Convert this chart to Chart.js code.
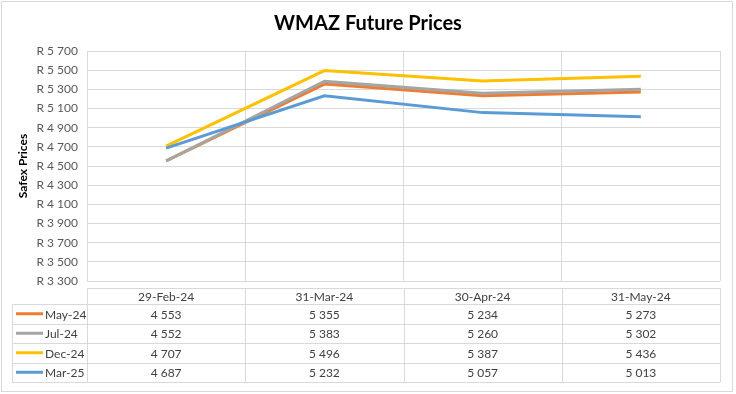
<!DOCTYPE html>
<html><head><meta charset="utf-8">
<script src="https://cdn.jsdelivr.net/npm/chart.js@4.4.1/dist/chart.umd.min.js"></script>
<style>html,body{margin:0;padding:0;background:#fff}#wrap{width:736px;height:394px;position:relative}</style>
</head><body><div id="wrap"><canvas id="c" width="736" height="394"></canvas></div>
<script>
const categories = ['29-Feb-24', '31-Mar-24', '30-Apr-24', '31-May-24'];
const seriesNames = ['May-24', 'Jul-24', 'Dec-24', 'Mar-25'];
const may24 = [4553, 5355, 5234, 5273];
const jul24 = [4552, 5383, 5260, 5302];
const dec24 = [4707, 5496, 5387, 5436];
const mar25 = [4687, 5232, 5057, 5013];
const seriesColors = ['#ED7D31', '#A5A5A5', '#FFC000', '#5B9BD5'];
const titleText = 'WMAZ Future Prices';
const yTitle = 'Safex Prices';

const seriesValues = [may24, jul24, dec24, mar25];
const fmt = v => String(v).replace(/\B(?=(\d{3})+(?!\d))/g, ' ');
const FONT = 'Lato, "Liberation Sans", sans-serif';
const GRID = '#d9d9d9';

const tablePlugin = {
  id: 'tablePlugin',
  afterDraw(chart) {
    const ctx = chart.ctx;
    const ca = chart.chartArea;
    const xs = chart.scales.x;
    const n = categories.length;
    const colW = (ca.right - ca.left) / n;
    const legL = 12;
    const hTop = 288, hBot = 304;
    const rows = [304, 323.5, 343, 362.5, 382];
    ctx.save();
    ctx.strokeStyle = GRID; ctx.lineWidth = 1;
    ctx.strokeRect(1.5, 1.5, 731, 390);
    ctx.fillStyle = '#000';
    ctx.font = 'bold 20px ' + FONT;
    ctx.textAlign = 'center'; ctx.textBaseline = 'middle';
    ctx.fillText(titleText, 368, 24);
    ctx.strokeStyle = GRID; ctx.lineWidth = 1;
    ctx.beginPath();
    ctx.moveTo(ca.left, hTop + 0.5); ctx.lineTo(ca.right, hTop + 0.5);
    rows.forEach(y => { ctx.moveTo(legL, Math.round(y) + 0.5); ctx.lineTo(ca.right, Math.round(y) + 0.5); });
    ctx.moveTo(legL + 0.5, rows[0]); ctx.lineTo(legL + 0.5, rows[rows.length - 1]);
    for (let i = 0; i <= n; i++) {
      const x = Math.round(ca.left + i * colW) + 0.5;
      ctx.moveTo(x, hTop); ctx.lineTo(x, rows[rows.length - 1]);
    }
    ctx.stroke();
    ctx.font = '12px ' + FONT;
    ctx.fillStyle = '#404040';
    ctx.textAlign = 'center';
    categories.forEach((c, i) => {
      ctx.fillText(c, xs.getPixelForValue(i), (hTop + hBot) / 2 + 1);
    });
    seriesNames.forEach((name, r) => {
      const yc = (rows[r] + rows[r + 1]) / 2 + 1;
      ctx.strokeStyle = seriesColors[r]; ctx.lineWidth = 3;
      ctx.beginPath(); ctx.moveTo(16, yc - 1); ctx.lineTo(43, yc - 1); ctx.stroke();
      ctx.fillStyle = '#404040';
      ctx.textAlign = 'left';
      ctx.fillText(name, 45, yc);
      ctx.textAlign = 'center';
      seriesValues[r].forEach((v, i) => {
        ctx.fillText(fmt(v), xs.getPixelForValue(i), yc);
      });
    });
    ctx.restore();
  }
};

new Chart(document.getElementById('c'), {
  type: 'line',
  data: {
    labels: categories,
    datasets: seriesNames.map((name, i) => ({
      label: name,
      data: seriesValues[i],
      borderColor: seriesColors[i],
      backgroundColor: seriesColors[i],
      borderWidth: 3,
      pointRadius: 0,
      tension: 0,
      order: seriesNames.length - i
    }))
  },
  options: {
    responsive: false,
    animation: false,
    layout: { padding: { left: 16, right: 16, top: 51, bottom: 113 } },
    plugins: { legend: { display: false }, tooltip: { enabled: false }, title: { display: false } },
    scales: {
      x: {
        offset: true,
        grid: { offset: true, color: GRID, drawTicks: false },
        border: { display: false },
        ticks: { display: false },
        afterFit(s) { s.height = 0; }
      },
      y: {
        min: 3300, max: 5700,
        grid: { color: GRID, drawTicks: false },
        border: { display: false },
        ticks: {
          stepSize: 200, padding: 9,
          color: '#595959', font: { family: FONT, size: 12 },
          callback: v => 'R ' + fmt(v)
        },
        title: { display: true, text: yTitle, color: '#000', font: { family: FONT, size: 12, weight: 'bold' }, padding: { top: 0, bottom: 0 } },
        afterFit(s) { s.width = 71; }
      }
    }
  },
  plugins: [tablePlugin]
});
</script></body></html>
